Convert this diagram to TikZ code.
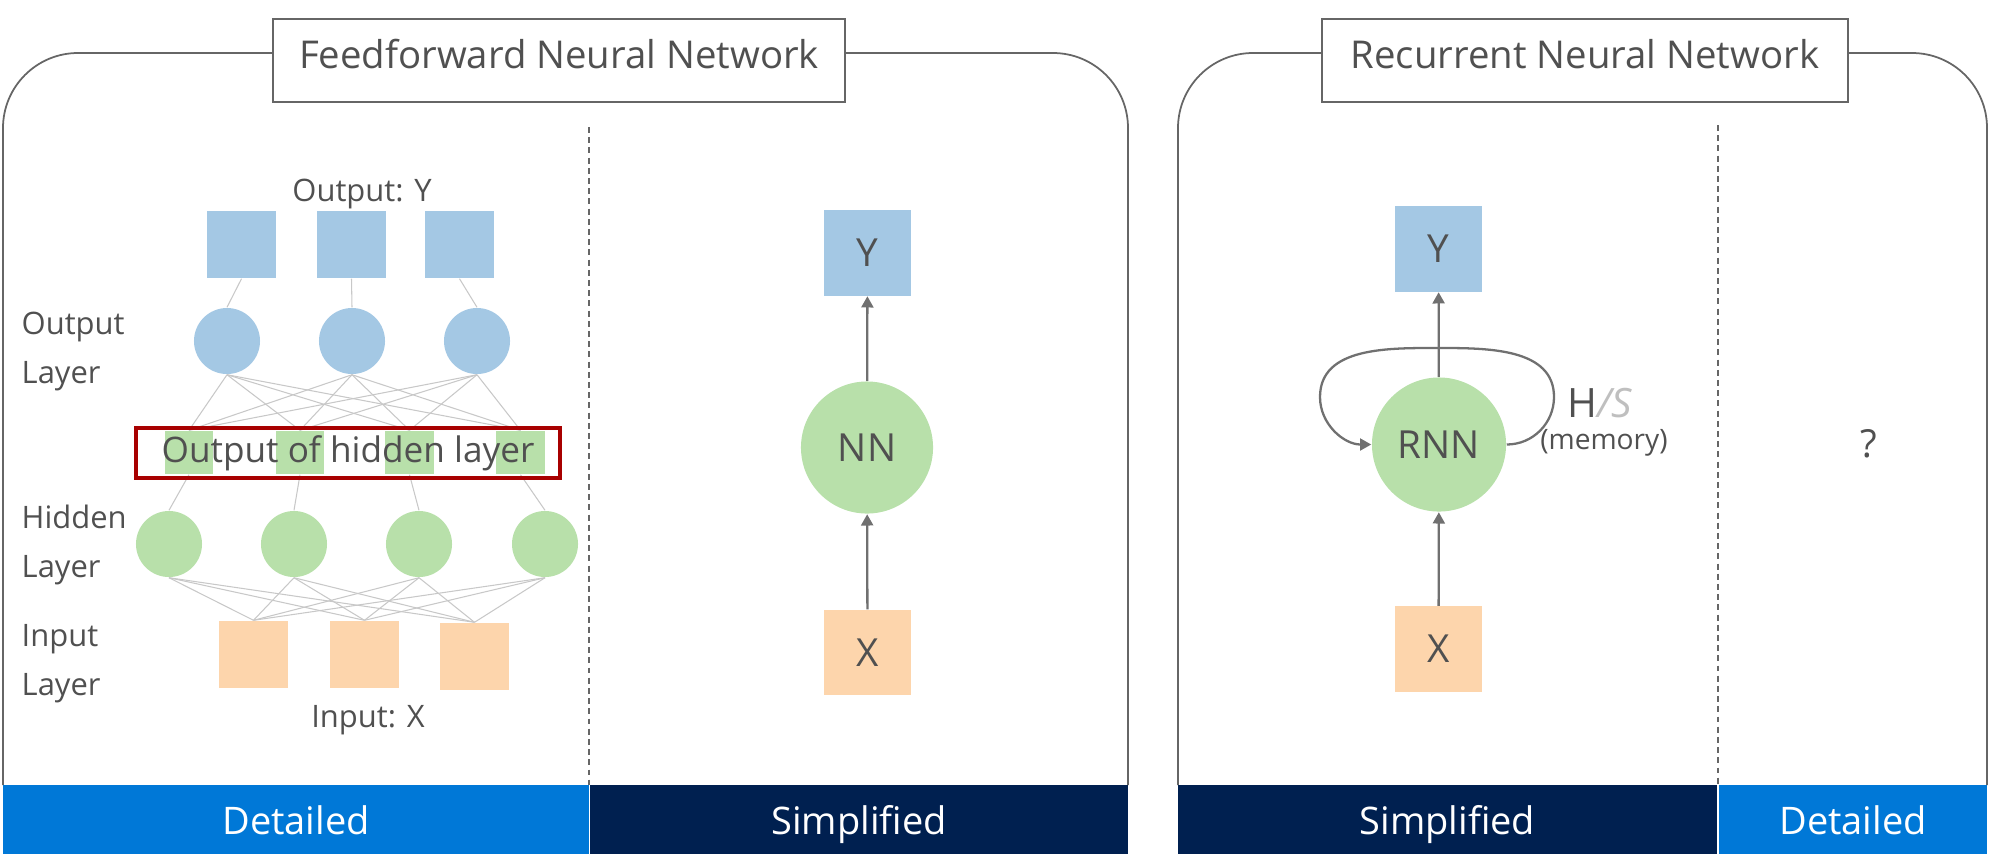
\documentclass[tikz,border=0pt]{standalone}
\usepackage{fontspec}
\setmainfont{Open Sans}
\usetikzlibrary{arrows.meta}
\definecolor{framegray}{HTML}{666666}
\definecolor{textgray}{HTML}{505050}
\definecolor{nodeblue}{HTML}{A4C8E4}
\definecolor{nodegreen}{HTML}{B8E0AA}
\definecolor{nodepeach}{HTML}{FDD5AC}
\definecolor{barblue}{HTML}{0078D7}
\definecolor{barnavy}{HTML}{002050}
\definecolor{wiregray}{HTML}{C8C8C8}
\definecolor{arrowgray}{HTML}{707070}
\definecolor{boxred}{HTML}{A80000}
\definecolor{slashgray}{HTML}{BFBFBF}
\tikzset{
  netlabel/.style={font=\fontsize{8.8}{13.7}\selectfont,text=textgray,align=left,anchor=base west,inner sep=0},
  captext/.style={font=\fontsize{8.8}{11}\selectfont,text=textgray,anchor=base,inner sep=0},
  bartext/.style={font=\fontsize{10.8}{13}\selectfont,text=white,anchor=base,inner sep=0}
}
\begin{document}
\begin{tikzpicture}[x=0.01cm,y=0.01cm,
  frame/.style={draw=framegray,line width=0.5pt},
  titlebox/.style={frame,fill=white,minimum width=#1,minimum height=0.83cm,inner sep=0,
    text height=6pt,text depth=1.7pt,font=\fontsize{10.9}{13}\selectfont,text=textgray},
  divider/.style={draw=framegray,line width=0.35pt,dash pattern=on 1.7pt off 1.2pt},
  smallsq/.style={fill=#1,minimum width=0.69cm,minimum height=0.67cm,inner sep=0},
  smallcirc/.style={circle,fill=#1,minimum size=0.66cm,inner sep=0},
  hidbar/.style={fill=nodegreen,minimum width=0.48cm,minimum height=0.43cm,inner sep=0},
  wire/.style={draw=wiregray,line width=0.3pt},
  bigsq/.style={fill=#1,minimum width=0.87cm,minimum height=0.85cm,inner sep=0,
    font=\fontsize{11}{13}\selectfont,text=textgray},
  bigcirc/.style={circle,fill=nodegreen,minimum size=#1,inner sep=0,
    font=\fontsize{11}{13}\selectfont,text=textgray},
  flow/.style={draw=arrowgray,line width=0.65pt,-{Triangle[length=3.2pt,width=3.4pt]}}]
\useasboundingbox (0,0) rectangle (1991,856);

% frames and titles
\coordinate (fftop) at (0,803);
\coordinate (rntop) at (0,803);
\node[titlebox=5.72cm] (fftitle) at (559,795.5) {Feedforward Neural Network};
\draw[frame,rounded corners=0.75cm] (fftitle.west |- fftop) -- (3,803) -- (3,71);
\draw[frame,rounded corners=0.75cm] (fftitle.east |- fftop) -- (1128,803) -- (1128,71);
\node[titlebox=5.26cm] (rntitle) at (1585,795.5) {Recurrent Neural Network};
\draw[frame,rounded corners=0.75cm] (rntitle.west |- rntop) -- (1178,803) -- (1178,71);
\draw[frame,rounded corners=0.75cm] (rntitle.east |- rntop) -- (1987,803) -- (1987,71);

% bottom bars
\fill[barblue] (3,2) rectangle (589,71);
\fill[barnavy] (590,2) rectangle (1128,71);
\fill[barnavy] (1178,2) rectangle (1717,71);
\fill[barblue] (1719,2) rectangle (1987,71);
\node[bartext] (ffdet) at (296,22) {Detailed};
\node[bartext] (ffsim) at (859,22) {Simplified};
\node[bartext] (rnsim) at (1447.5,22) {Simplified};
\node[bartext] (rndet) at (1853,22) {Detailed};
\draw[divider] (589,729) -- (589,71);
\draw[divider] (1718,731) -- (1718,71);

% detailed feedforward network
\node[captext] (outcap) at (362,655) {Output: Y};
\node[captext] (incap) at (368,129) {Input: X};
\node[netlabel] (outlbl) at (21,473) {Output\\Layer};
\node[netlabel] (hidlbl) at (21,279) {Hidden\\Layer};
\node[netlabel] (inlbl) at (21,161) {Input\\Layer};
\foreach \x [count=\i] in {241.5,351.5,459.5}
  \node[smallsq=nodeblue] (os\i) at (\x,611.5) {};
\foreach \x [count=\i] in {227,352,477}
  \node[smallcirc=nodeblue] (oc\i) at (\x,515) {};
\foreach \x [count=\i] in {189,300,409.5,520.5}
  \node[hidbar] (hb\i) at (\x,403.5) {};
\foreach \x [count=\i] in {169,294,419,545}
  \node[smallcirc=nodegreen] (hc\i) at (\x,312) {};
\foreach \x/\y [count=\i] in {253.5/201.5,364.5/201.5,474.5/199.5}
  \node[smallsq=nodepeach] (is\i) at (\x,\y) {};
\foreach \i in {1,2,3}
  \draw[wire] (os\i.south) -- (oc\i.north);
\foreach \i in {1,2,3}
  \foreach \j in {1,...,4}
    \draw[wire] (oc\i.south) -- (hb\j.north);
\foreach \j in {1,...,4}
  \draw[wire] (hb\j.south) -- (hc\j.north);
\foreach \j in {1,...,4}
  \foreach \k in {1,2,3}
    \draw[wire] (hc\j.south) -- (is\k.north);
\node[draw=boxred,line width=1.1pt,minimum width=4.24cm,minimum height=0.5cm,inner sep=0,
  font=\fontsize{10}{12}\selectfont,text=textgray] (hidout) at (348,403) {Output of hidden layer};

% simplified feedforward network
\node[bigsq=nodeblue] (ffy) at (867.5,603) {Y};
\node[bigcirc=1.32cm] (ffnn) at (867,408.5) {NN};
\node[bigsq=nodepeach] (ffx) at (867.5,203.5) {X};
\draw[flow] (ffnn) -- (ffy);
\draw[flow] (ffx) -- (ffnn);

% simplified recurrent network
\node[bigsq=nodeblue] (rny) at (1438.5,607) {Y};
\node[bigcirc=1.34cm] (rnn) at (1439,411.5) {RNN};
\node[bigsq=nodepeach] (rnx) at (1438.5,207) {X};
\draw[flow] (rnn) -- (rny);
\draw[flow] (rnx) -- (rnn);
\coordinate (loopr) at (1554,459);
\coordinate (looptop) at (1439,508);
\coordinate (loopl) at (1320,459);
\draw[flow] (rnn.east) to[out=0,in=-90] (loopr) to[out=90,in=0] (looptop)
  to[out=180,in=90] (loopl) to[out=-90,in=180] (rnn.west);
\node[anchor=base west,inner sep=0,font=\fontsize{11.5}{13}\selectfont,text=textgray]
  (hs) at (1567,439) {H\textcolor{slashgray}{\itshape/S}};
\node[anchor=base,inner sep=0,font=\fontsize{8}{10}\selectfont,text=textgray]
  (mem) at (1604,407) {(memory)};
\node[inner sep=0,font=\fontsize{11}{13}\selectfont,text=textgray] (unk) at (1869,412) {?};
\end{tikzpicture}
\end{document}
